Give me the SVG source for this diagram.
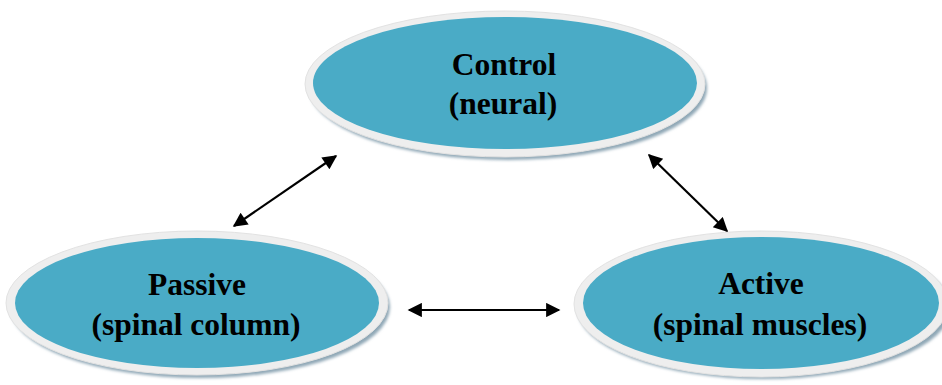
<svg xmlns="http://www.w3.org/2000/svg" width="942" height="385" viewBox="0 0 942 385">
<defs>
<style>
.shadow{fill:#8fa7b6;filter:url(#blur)}
.rim{fill:#eeeeee;stroke:#e2e2e2;stroke-width:1}
.core{fill:#4aabc6}
.lbl{font-family:"Liberation Serif","Times New Roman",serif;font-weight:bold;font-size:31.5px;fill:#000;text-anchor:middle}
.conn{stroke:#000;stroke-width:2.2;fill:none;marker-start:url(#ah);marker-end:url(#ah)}
</style>
<filter id="blur" x="-10%" y="-10%" width="120%" height="130%"><feGaussianBlur stdDeviation="1.5"/></filter>
<marker id="ah" viewBox="0 0 10 10" refX="9" refY="5" markerWidth="7.5" markerHeight="6.5" orient="auto-start-reverse" markerUnits="strokeWidth">
<path d="M0,0 L10,5 L0,10 Z" fill="#000"/>
</marker>
</defs>
<g id="node-control">
<ellipse class="shadow" cx="508" cy="88" rx="199" ry="72"/>
<ellipse class="rim" cx="505" cy="84" rx="200" ry="73"/>
<ellipse class="core" cx="505" cy="83" rx="192" ry="66"/>
<text class="lbl" x="504" y="75">Control</text>
<text class="lbl" x="503" y="114">(neural)</text>
</g>
<g id="node-passive">
<ellipse class="shadow" cx="200" cy="307" rx="190" ry="71"/>
<ellipse class="rim" cx="197" cy="303" rx="191" ry="72"/>
<ellipse class="core" cx="197" cy="303" rx="182" ry="65"/>
<text class="lbl" x="197" y="295">Passive</text>
<text class="lbl" x="196" y="335">(spinal column)</text>
</g>
<g id="node-active">
<ellipse class="shadow" cx="764" cy="308" rx="187" ry="71"/>
<ellipse class="rim" cx="761" cy="304" rx="187" ry="73"/>
<ellipse class="core" cx="761" cy="303" rx="178" ry="66"/>
<text class="lbl" x="761" y="294">Active</text>
<text class="lbl" x="760" y="335">(spinal muscles)</text>
</g>
<g id="connectors">
<line class="conn" x1="234" y1="226" x2="336" y2="156"/>
<line class="conn" x1="649" y1="155" x2="727" y2="231"/>
<line class="conn" x1="409" y1="310" x2="559" y2="310"/>
</g>
</svg>
